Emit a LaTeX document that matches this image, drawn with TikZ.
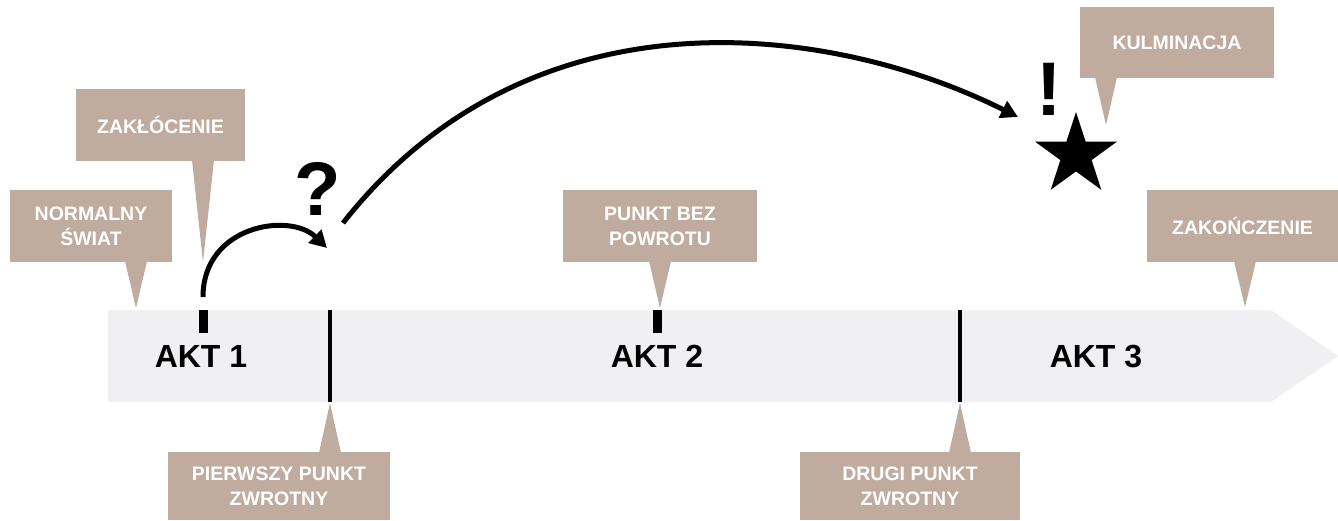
\documentclass[tikz,border=0pt]{standalone}
\usepackage{fontspec}
\setmainfont{Liberation Sans}
\usetikzlibrary{arrows.meta,calc,shapes.geometric}
\definecolor{callout}{RGB}{191,172,159}
\definecolor{bandgray}{RGB}{240,240,242}
\tikzset{
  callbox/.style={fill=callout, text=white, font=\bfseries\fontsize{19.5}{25}\selectfont,
    align=center, inner sep=0pt, minimum height=72pt},
  pointer/.style={fill=callout},
  akt/.style={font=\bfseries\fontsize{32}{36}\selectfont, anchor=base, inner sep=0pt},
  bigmark/.style={font=\bfseries\fontsize{76}{80}\selectfont, anchor=base, inner sep=0pt},
  tickline/.style={line width=4pt},
  shorttick/.style={line width=9pt},
  storyarrow/.style={line width=5pt, -{Triangle[length=17pt,width=18pt]}},
}
\newcommand{\ptrdown}[2]{\fill[pointer] (#2) -- ($(#1.south -| #2)+(-11,-1)$) -- ($(#1.south -| #2)+(11,-1)$) -- cycle;}
\newcommand{\ptrup}[2]{\fill[pointer] (#2) -- ($(#1.north -| #2)+(-11,1)$) -- ($(#1.north -| #2)+(11,1)$) -- cycle;}
\begin{document}
\begin{tikzpicture}[x=1pt,y=-1pt]
\useasboundingbox (0,0) rectangle (1338,520);
% timeline band
\fill[bandgray] (108,310) -- (1271,310) -- (1338,356) -- (1271,402) -- (108,402) -- cycle;
% ticks
\coordinate (t1top) at (330,310); \coordinate (t1bot) at (330,402);
\coordinate (t2top) at (960,310); \coordinate (t2bot) at (960,402);
\draw[tickline] (t1top) -- (t1bot);
\draw[tickline] (t2top) -- (t2bot);
\coordinate (s1top) at (203,310); \coordinate (s1bot) at (203,333);
\coordinate (s2top) at (657,310); \coordinate (s2bot) at (657,333);
\draw[shorttick] (s1top) -- (s1bot);
\draw[shorttick] (s2top) -- (s2bot);
% act labels
\node[akt] (akt1) at (201,367) {AKT 1};
\node[akt] (akt2) at (657,367) {AKT 2};
\node[akt] (akt3) at (1096,367) {AKT 3};
% callouts
\node[callbox, minimum width=162pt] (normal) at (91,226) {NORMALNY\\ŚWIAT};
\coordinate (normaltip) at (136,308);
\ptrdown{normal}{normaltip}
\node[callbox, minimum width=169pt] (zakl) at (160.5,125) {ZAKŁÓCENIE};
\coordinate (zakltip) at (203,262);
\ptrdown{zakl}{zakltip}
\node[callbox, minimum width=194pt] (bez) at (660,226) {PUNKT BEZ\\POWROTU};
\coordinate (beztip) at (660,308);
\ptrdown{bez}{beztip}
\node[callbox, minimum width=194pt, minimum height=71pt] (kulm) at (1177,42.5) {KULMINACJA};
\coordinate (kulmtip) at (1106,125);
\ptrdown{kulm}{kulmtip}
\node[callbox, minimum width=191pt] (zakon) at (1242.5,226) {ZAKOŃCZENIE};
\coordinate (zakontip) at (1245,307);
\ptrdown{zakon}{zakontip}
\node[callbox, minimum width=222pt, minimum height=68pt] (pierw) at (279,486) {PIERWSZY PUNKT\\ZWROTNY};
\coordinate (pierwtip) at (330,403);
\ptrup{pierw}{pierwtip}
\node[callbox, minimum width=220pt, minimum height=68pt] (drugi) at (910,486) {DRUGI PUNKT\\ZWROTNY};
\coordinate (drugitip) at (960,403);
\ptrup{drugi}{drugitip}
% marks
\node[bigmark] (qmark) at (318,215) {?};
\node[bigmark] (emark) at (1049,115) {!};
\node[star, star points=5, star point ratio=2.618, fill=black, minimum size=86pt, inner sep=0pt] (star) at (1076,155) {};
% arrows
\coordinate (a1s) at (203,297); \coordinate (a1e) at (327,248);
\draw[storyarrow] (a1s) .. controls (203,225) and (290,212) .. (a1e);
\coordinate (a2s) at (343,223); \coordinate (a2e) at (1018,117);
\draw[storyarrow] (a2s) .. controls (531,-16) and (830,23) .. (a2e);
\end{tikzpicture}
\end{document}
